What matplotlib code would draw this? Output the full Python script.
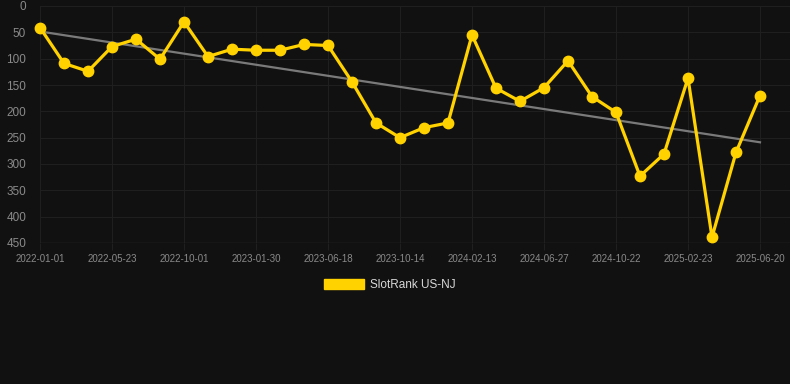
import numpy as np
import matplotlib
matplotlib.use("Agg")
import matplotlib.pyplot as plt
from matplotlib.patches import Patch

# data
ranks = [41, 109, 124, 77, 63, 101, 30, 96, 82, 84, 84, 73, 75, 144, 222,
         250, 231, 222, 55, 156, 181, 155, 104, 172, 202, 323, 281, 137,
         439, 278, 170]
tick_labels = ["2022-01-01", "2022-05-23", "2022-10-01", "2023-01-30",
               "2023-06-18", "2023-10-14", "2024-02-13", "2024-06-27",
               "2024-10-22", "2025-02-23", "2025-06-20"]
series_name = "SlotRank US-NJ"

plt.rcParams['font.family'] = ['Liberation Sans', 'DejaVu Sans']
BG = "#111111"
YELLOW = "#FFD200"
GRID = "#1f1f1f"
TXT = "#8a8a8a"

fig = plt.figure(figsize=(7.9, 3.84), dpi=100, facecolor=BG)
W, H = 790, 384
ax = fig.add_axes([40 / W, 1 - 243 / H, (790 - 40) / W, (243 - 6) / H])
ax.set_facecolor(BG)

x = np.arange(len(ranks))
y = np.array(ranks, dtype=float)

# trend line (linear regression)
coef = np.polyfit(x, y, 1)
ax.plot(x, np.polyval(coef, x), color="#7a7a7a", lw=1.6, zorder=2)

ax.plot(x, y, color=YELLOW, lw=2.3, marker="o", ms=7.5,
        markerfacecolor=YELLOW, markeredgecolor=YELLOW, zorder=3,
        clip_on=False)

step = (len(ranks) - 1) // (len(tick_labels) - 1)
ax.set_xticks(x[::step])
ax.set_xticklabels(tick_labels)
ax.set_xlim(0, (len(ranks) - 1) * (750 / 720))
ax.set_ylim(450, 0)
ax.set_yticks(np.arange(0, 451, 50))

ax.grid(True, color=GRID, lw=0.8)
ax.set_axisbelow(True)
for s in ax.spines.values():
    s.set_visible(False)
ax.axhline(450, color="#2c2c2c", lw=1, zorder=1)

ax.tick_params(axis="x", colors=TXT, labelsize=7, length=5, width=0.8,
               color=GRID, pad=3)
ax.tick_params(axis="y", colors=TXT, labelsize=8.5, length=0, pad=10)
for t in ax.get_yticklabels():
    t.set_color(TXT)

handle = Patch(facecolor=YELLOW, edgecolor=YELLOW, label=series_name)
leg = fig.legend(handles=[handle], loc="center",
                 bbox_to_anchor=(390 / W, 1 - 285 / H), frameon=False,
                 fontsize=8.5, handlelength=3.4, handleheight=0.95,
                 handletextpad=0.5)
for t in leg.get_texts():
    t.set_color("#d8d8d8")

fig.savefig("out.png", dpi=100, facecolor=BG)
